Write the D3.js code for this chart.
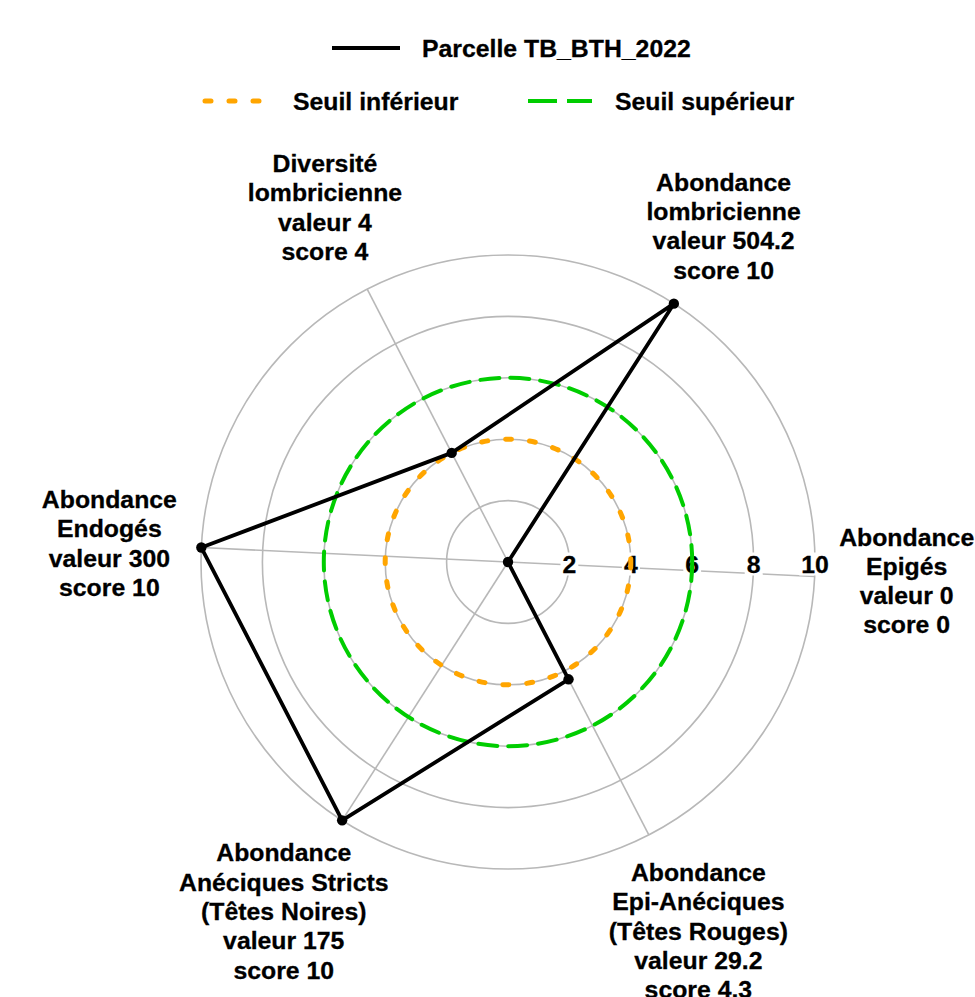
<!DOCTYPE html>
<html>
<head>
<meta charset="utf-8">
<script src="https://cdn.jsdelivr.net/npm/d3@7"></script>
<style>
  body { margin: 0; background: #fff; }
  svg text { font-family: "Liberation Sans", Arial, sans-serif; font-weight: bold; fill: #000; stroke: #000; stroke-width: 0.3px; }
</style>
</head>
<body>
<svg id="radar"></svg>
<script>
// axes, clockwise from the upper-left one
const categories = [
  "Diversité lombricienne",
  "Abondance lombricienne",
  "Abondance Epigés",
  "Abondance Epi-Anéciques (Têtes Rouges)",
  "Abondance Anéciques Stricts (Têtes Noires)",
  "Abondance Endogés"
];
const labelLines = [
  ["Diversité", "lombricienne"],
  ["Abondance", "lombricienne"],
  ["Abondance", "Epigés"],
  ["Abondance", "Epi-Anéciques", "(Têtes Rouges)"],
  ["Abondance", "Anéciques Stricts", "(Têtes Noires)"],
  ["Abondance", "Endogés"]
];
const valeurs = ["4", "504.2", "0", "29.2", "175", "300"];
const scores = [4, 10, 0, 4.3, 10, 10];
const seuilInferieur = 4;
const seuilSuperieur = 6;
const radialTicks = [2, 4, 6, 8, 10];
const parcelle = "Parcelle TB_BTH_2022";

var width = 975, height = 997;
var cx = 508, cy = 562;
var R = 307;
var startAngle = -27.3; // degrees, clockwise from 12 o'clock
var fontSize = 24.8;
var lineH = 29.3;

var svg = d3.select("#radar").attr("width", width).attr("height", height);

var rScale = d3.scaleLinear().domain([0, 10]).range([0, R]);
var aScale = d3.scaleLinear()
  .domain([0, categories.length])
  .range([startAngle * Math.PI / 180, (startAngle + 360) * Math.PI / 180]);

var g = svg.append("g").attr("transform", `translate(${cx},${cy})`);

// grid rings and spokes
g.append("g").selectAll("circle")
  .data(radialTicks)
  .join("circle")
  .attr("r", d => rScale(d))
  .attr("fill", "none")
  .attr("stroke", "#b8b8b8")
  .attr("stroke-width", 1.6);

g.append("g").selectAll("line")
  .data(categories)
  .join("line")
  .attr("x1", 0).attr("y1", 0)
  .attr("x2", (d, i) => rScale(10) * Math.sin(aScale(i)))
  .attr("y2", (d, i) => -rScale(10) * Math.cos(aScale(i)))
  .attr("stroke", "#b8b8b8")
  .attr("stroke-width", 1.6);

// radial tick labels with white boxes
var ticks = g.append("g").selectAll("g")
  .data(radialTicks)
  .join("g")
  .attr("transform", d => `translate(${rScale(d)},2)`);
ticks.append("text")
  .attr("text-anchor", "middle")
  .attr("dominant-baseline", "central")
  .style("font-size", fontSize + "px")
  .text(d => d);
ticks.each(function() {
  var t = d3.select(this).select("text");
  var bb = t.node().getBBox();
  d3.select(this).insert("rect", "text")
    .attr("x", bb.x - 2).attr("y", bb.y + 2)
    .attr("width", bb.width + 4).attr("height", bb.height - 4)
    .attr("fill", "#fff");
});

// threshold rings
g.append("circle")
  .attr("r", rScale(seuilInferieur))
  .attr("fill", "none")
  .attr("stroke", "orange")
  .attr("stroke-width", 5)
  .attr("stroke-linecap", "round")
  .attr("stroke-dasharray", "6 18");

g.append("circle")
  .attr("r", rScale(seuilSuperieur))
  .attr("fill", "none")
  .attr("stroke", "#00cd00")
  .attr("stroke-width", 4)
  .attr("stroke-linecap", "round")
  .attr("stroke-dasharray", "19 11");

// parcel polygon
var line = d3.lineRadial()
  .angle((d, i) => aScale(i))
  .radius(d => rScale(d))
  .curve(d3.curveLinearClosed);

g.append("path")
  .datum(scores)
  .attr("d", line)
  .attr("fill", "none")
  .attr("stroke", "#000")
  .attr("stroke-width", 3.8)
  .attr("stroke-linejoin", "round");

g.append("g").selectAll("circle")
  .data(scores)
  .join("circle")
  .attr("cx", (d, i) => rScale(d) * Math.sin(aScale(i)))
  .attr("cy", (d, i) => -rScale(d) * Math.cos(aScale(i)))
  .attr("r", 5.2)
  .attr("fill", "#000");

// axis labels
var labels = g.append("g").selectAll("text")
  .data(categories.map((c, i) => ({
    lines: labelLines[i].concat(["valeur " + valeurs[i], "score " + scores[i]]),
    angle: aScale(i)
  })))
  .join("text")
  .attr("text-anchor", "middle")
  .style("font-size", fontSize + "px")
  .attr("transform", d => {
    var lr = R * 1.3 + (d.lines.length - 4) * 16;
    var x = lr * Math.sin(d.angle);
    var y = -lr * Math.cos(d.angle) - (d.lines.length - 1) * lineH / 2;
    return `translate(${x},${y})`;
  });
labels.selectAll("tspan")
  .data(d => d.lines)
  .join("tspan")
  .attr("x", 0)
  .attr("dy", (d, i) => i === 0 ? "0.35em" : lineH)
  .text(d => d);

// legend
var legend = svg.append("g");
legend.append("line")
  .attr("x1", 332).attr("x2", 400).attr("y1", 48).attr("y2", 48)
  .attr("stroke", "#000").attr("stroke-width", 4);
legend.append("text")
  .attr("x", 422).attr("y", 48).attr("dy", "0.35em")
  .style("font-size", fontSize + "px")
  .text(parcelle);

legend.append("line")
  .attr("x1", 205).attr("x2", 262).attr("y1", 101).attr("y2", 101)
  .attr("stroke", "orange").attr("stroke-width", 5)
  .attr("stroke-linecap", "round").attr("stroke-dasharray", "6 18");
legend.append("text")
  .attr("x", 293).attr("y", 101).attr("dy", "0.35em")
  .style("font-size", fontSize + "px")
  .text("Seuil inférieur");

legend.append("line")
  .attr("x1", 528).attr("x2", 592).attr("y1", 101).attr("y2", 101)
  .attr("stroke", "#00cd00").attr("stroke-width", 4)
  .attr("stroke-dasharray", "29 10");
legend.append("text")
  .attr("x", 615).attr("y", 101).attr("dy", "0.35em")
  .style("font-size", fontSize + "px")
  .text("Seuil supérieur");
</script>
</body>
</html>
